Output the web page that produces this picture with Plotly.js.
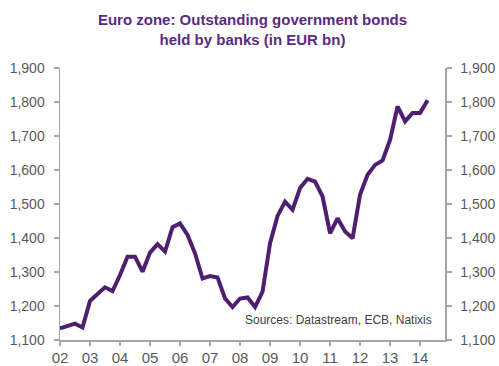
<!DOCTYPE html>
<html>
<head>
<meta charset="utf-8">
<script src="https://cdn.plot.ly/plotly-3.0.1.min.js"></script>
<style>html,body{margin:0;padding:0;background:#fff;}#chart{width:499px;height:366px;}</style>
</head>
<body>
<div id="chart"></div>
<script>
// Quarterly observations (decimal year)
const quarters = [
  2002.00, 2002.25, 2002.50, 2002.75,
  2003.00, 2003.25, 2003.50, 2003.75,
  2004.00, 2004.25, 2004.50, 2004.75,
  2005.00, 2005.25, 2005.50, 2005.75,
  2006.00, 2006.25, 2006.50, 2006.75,
  2007.00, 2007.25, 2007.50, 2007.75,
  2008.00, 2008.25, 2008.50, 2008.75,
  2009.00, 2009.25, 2009.50, 2009.75,
  2010.00, 2010.25, 2010.50, 2010.75,
  2011.00, 2011.25, 2011.50, 2011.75,
  2012.00, 2012.25, 2012.50, 2012.75,
  2013.00, 2013.25, 2013.50, 2013.75,
  2014.00, 2014.25
];
// Outstanding government bonds held by banks (EUR bn)
const bondsHeld = [
  1134, 1141, 1148, 1137,
  1215, 1235, 1255, 1244,
  1291, 1345, 1345, 1301,
  1357, 1382, 1360, 1432,
  1443, 1409, 1355, 1281,
  1288, 1284, 1222, 1197,
  1222, 1225, 1197, 1242,
  1385, 1465, 1507, 1483,
  1547, 1574, 1566, 1522,
  1414, 1458, 1419, 1399,
  1528, 1586, 1615, 1628,
  1689, 1787, 1743, 1768,
  1768, 1805
];
const yearTickVals = [2002, 2003, 2004, 2005, 2006, 2007, 2008, 2009, 2010, 2011, 2012, 2013, 2014];
const yearTickText = ["02", "03", "04", "05", "06", "07", "08", "09", "10", "11", "12", "13", "14"];
const yTickVals = [1100, 1200, 1300, 1400, 1500, 1600, 1700, 1800, 1900];

const lineColor = "#4E1E70";
const axisColor = "#A6A6A6";
const labelColor = "#595959";
const fontFam = "Arial, 'Liberation Sans', sans-serif";

const traces = [
  {x: quarters, y: bondsHeld, type: "scatter", mode: "lines",
   line: {color: lineColor, width: 4}, hoverinfo: "skip", showlegend: false},
  {x: quarters, y: bondsHeld, type: "scatter", mode: "lines", yaxis: "y2",
   line: {color: lineColor, width: 0}, opacity: 0, hoverinfo: "skip", showlegend: false}
];

const yCommon = {
  range: [1100, 1900], tickvals: yTickVals, tickformat: ",d",
  showgrid: false, zeroline: false, showline: true, linecolor: axisColor, linewidth: 1.5,
  ticks: "outside", ticklen: 5, tickcolor: axisColor, tickwidth: 1.5,
  tickfont: {family: fontFam, size: 14, color: labelColor}, ticklabelstandoff: 6
};

const layout = {
  width: 499, height: 366,
  margin: {l: 60, r: 54, t: 68, b: 26},
  paper_bgcolor: "#fff", plot_bgcolor: "#fff",
  font: {family: fontFam},
  title: {
    text: "<b>Euro zone: Outstanding government bonds<br>held by banks (in EUR bn)</b>",
    font: {family: fontFam, size: 15, color: "#5B2A84"},
    x: 0.5, xanchor: "center", xref: "paper",
    y: 1 - 25/366, yanchor: "top", yref: "container"
  },
  xaxis: {
    range: [2002, 2014.83], tickvals: yearTickVals, ticktext: yearTickText,
    showgrid: false, zeroline: false, showline: true, linecolor: axisColor, linewidth: 1.5,
    ticks: "outside", ticklen: 4, tickcolor: axisColor, tickwidth: 1.5,
    tickfont: {family: fontFam, size: 15, color: labelColor}, ticklabelstandoff: -1
  },
  yaxis: Object.assign({}, yCommon, {side: "left"}),
  yaxis2: Object.assign({}, yCommon, {side: "right", overlaying: "y"}),
  annotations: [{
    text: "Sources: Datastream, ECB, Natixis", xref: "paper", yref: "paper",
    x: 0.971, y: 0.0735, xanchor: "right", yanchor: "middle", showarrow: false,
    font: {family: fontFam, size: 12, color: "#404040"}
  }]
};

Plotly.newPlot("chart", traces, layout, {staticPlot: true, displayModeBar: false});
</script>
</body>
</html>
